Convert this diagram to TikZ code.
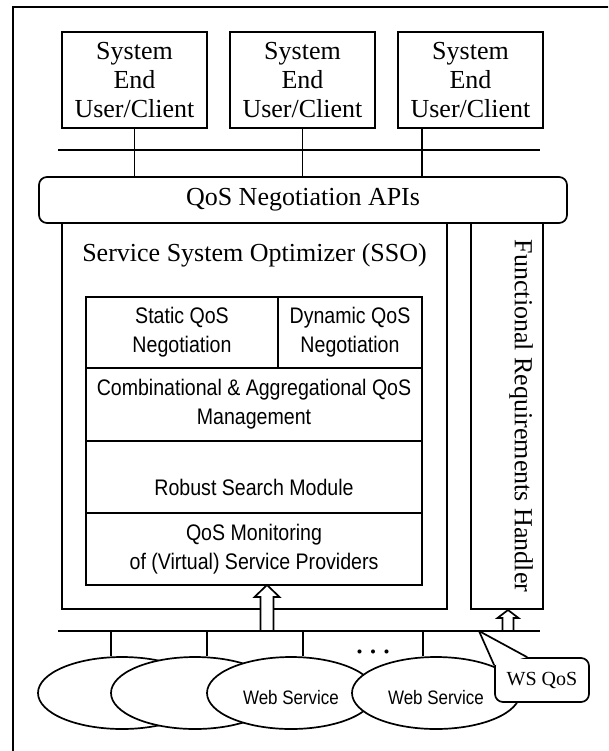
\documentclass[tikz,border=0pt]{standalone}
\usepackage{fontspec}
\setmainfont{Liberation Serif}
\newfontfamily\modfont[FakeStretch=0.87]{Liberation Sans}
\usetikzlibrary{shapes.geometric}

\begin{document}
\begin{tikzpicture}[x=1pt,y=-1pt,line width=1.7pt,
    bigtext/.style={font=\fontsize{26}{29}\selectfont},
    userbox/.style={draw,bigtext,align=center,inner sep=0pt,minimum width=145pt,minimum height=96pt},
    apibox/.style={draw,bigtext,rounded corners=8pt,minimum width=528pt,minimum height=46pt},
    ssobox/.style={draw,inner sep=0pt},
    modtext/.style={align=center,font=\modfont\fontsize{22.5}{29}\selectfont},
    module/.style={draw,modtext,inner sep=0pt},
    websvc/.style={draw,fill=white,ellipse,inner sep=0pt,minimum width=168pt,minimum height=72pt,font=\modfont\fontsize{19.5}{22}\selectfont},
    wsq/.style={draw,fill=white,rounded corners=8pt,minimum width=94pt,minimum height=44pt,font=\fontsize{20}{24}\selectfont},
    hollow/.style={draw,fill=white}]
    \useasboundingbox (0,0) rectangle (608,751);
    \clip (0,0) rectangle (608,751);
    \draw (13,7) rectangle (620,760);

    % End users
    \node[userbox] (u1) at (134.5,80) {System\\End\\User/Client};
    \node[userbox] (u2) at (302.5,80) {System\\End\\User/Client};
    \node[userbox] (u3) at (470.5,80) {System\\End\\User/Client};
    \coordinate (busTL) at (58,150);
    \coordinate (busTR) at (540,150);
    \draw (busTL) -- (busTR);

    \node[apibox] (api) at (303,200) {QoS Negotiation APIs};
    \draw (u1.south) -- (u1.south |- api.north);
    \draw (u2.south) -- (u2.south |- api.north);
    \draw ([xshift=-48.5pt]u3.south) -- ([xshift=-48.5pt]u3.south |- api.north);

    % Optimizer
    \node[ssobox,minimum width=385pt,minimum height=386pt] (sso) at (254.5,416) {};
    \node[bigtext,anchor=base] (ssotitle) at (254.5,261) {Service System Optimizer (SSO)};
    \node[ssobox,minimum width=72pt,minimum height=386pt] (frh) at (507,416) {};
    \node[bigtext,rotate=-90] (frhtext) at (521,416) {Functional Requirements Handler};

    % Modules
    \node[module,minimum width=192pt,minimum height=71pt] (static) at (182,332.5) {Static QoS\\Negotiation};
    \node[module,minimum width=144pt,minimum height=71pt] (dynamic) at (350,332.5) {Dynamic QoS\\Negotiation};
    \node[module,minimum width=336pt,minimum height=73pt] (combo) at (254,404.5) {Combinational \& Aggregational QoS\\Management};
    \node[module,minimum width=336pt,minimum height=72pt] (robust) at (254,477) {};
    \node[modtext] (robusttext) at ([yshift=-10pt]robust.center) {Robust Search Module};
    \node[module,minimum width=336pt,minimum height=72pt] (monitor) at (254,549) {QoS Monitoring\\of (Virtual) Service Providers};

    % Web services
    \coordinate (busBL) at (58,631);
    \coordinate (busBR) at (540,631);
    \node[websvc] (e1) at (122,693) {};
    \node[websvc] (e2) at (195,693) {};
    \node[websvc] (e3) at (291,693) {};
    \node[websvc] (e4) at (436,693) {};
    \node[websvc,draw=none,fill=none] (e3text) at ([yshift=-5pt]e3.center) {Web Service};
    \node[websvc,draw=none,fill=none] (e4text) at ([yshift=-5pt]e4.center) {Web Service};
    \draw ([xshift=-11pt]e1.north) -- ([xshift=-11pt]e1.north |- busBL);
    \draw ([xshift=12pt]e2.north) -- ([xshift=12pt]e2.north |- busBL);
    \draw ([xshift=12pt]e3.north) -- ([xshift=12pt]e3.north |- busBL);
    \draw ([xshift=-13pt]e4.north) -- ([xshift=-13pt]e4.north |- busBL);
    \node[font=\fontsize{34}{34}\selectfont] (dots) at (373,652) {.\hspace{5pt}.\hspace{5pt}.};

    % WS QoS callout
    \node[wsq] (wsq) at (542,680) {WS QoS};
    \coordinate (tip) at (479,631);
    \fill[white] (tip) -- ([yshift=-8pt]wsq.north west) -- ([xshift=33pt]wsq.north west) -- cycle;
    \draw (tip) -- ([yshift=-8pt]wsq.north west);
    \draw (tip) -- ([xshift=33pt]wsq.north west);

    \draw (busBL) -- (busBR);

    % Hollow arrows
    \coordinate (a1) at (267,631);
    \draw[hollow] (a1) ++(-6.5,0) -- ++(0,-34) -- ++(-6,0) -- ++(12.5,-12) -- ++(12.5,12) -- ++(-6,0) -- ++(0,34) -- cycle;
    \coordinate (a2) at (508,631);
    \draw[hollow] (a2) ++(-5.5,0) -- ++(0,-13) -- ++(-5,0) -- ++(10.5,-8) -- ++(10.5,8) -- ++(-5,0) -- ++(0,13) -- cycle;
\end{tikzpicture}
\end{document}
